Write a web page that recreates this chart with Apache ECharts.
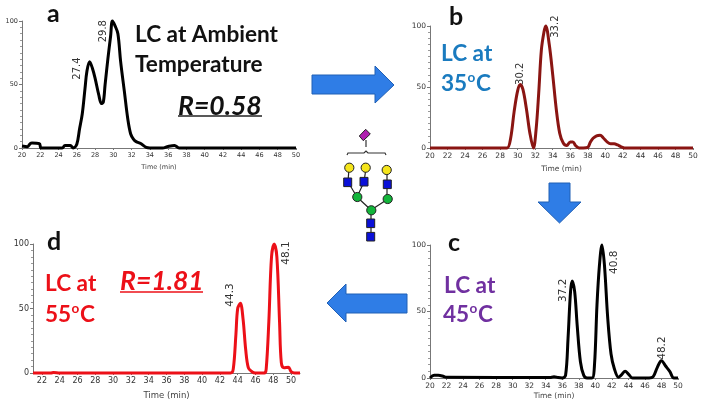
<!DOCTYPE html>
<html><head><meta charset="utf-8">
<style>html,body{margin:0;padding:0;background:#fff}#c{width:704px;height:408px}</style>
<script src="https://cdn.jsdelivr.net/npm/echarts@6/dist/echarts.min.js"></script>
</head><body><div id="c"></div>
<script>
const timeA=[20,20.6,20.9,21.1,21.9,22.1,24.4,24.7,25.3,25.6,26,26.3,26.6,26.9,27.1,27.4,27.7,28,28.4,28.7,28.9,29.1,29.4,29.7,29.9,30.2,30.5,30.8,31.2,31.6,31.9,32.2,32.5,33,33.6,34,35.4,35.9,36.7,37.2,50];
const valueA=[1.5,1,3.5,4,3.5,0,0,2,2,0,3,15,27,47,60,68,63,55,42,35,36,50,70,88,100,96,90,68,45,22,11,7,5,3.5,0.5,0,0,1,2,0,0];
const timeB=[20,28,28.8,29.2,29.6,30,30.3,30.6,31,31.4,31.8,32.1,32.4,32.7,33,33.2,33.6,34,34.4,34.8,35.2,35.6,36,36.3,36.6,37,37.5,38,38.3,38.6,39,39.4,39.8,40.2,40.6,41,41.4,41.8,42.2,42.6,50];
const valueB=[0,0,0,8,30,47,52,48,32,12,0,15,45,80,95,100,85,60,32,12,4,2,5,5,2,0,0,0.5,5,8,10,10.5,8,5,3.5,3.5,2.5,1,0,0,0];
const timeC=[20,20.5,21,21.5,22,34.5,35,35.5,36,36.4,36.7,37,37.2,37.5,37.8,38.2,38.6,39,39.6,39.9,40.2,40.5,40.8,41.1,41.5,41.9,42.3,42.8,43.1,43.6,44,44.5,46.5,47,47.5,48,48.5,49,49.5,50];
const valueC=[0,2,2,1.5,0.5,0.3,1,0.3,0,2,30,65,73,65,40,12,2,0,0,10,55,85,100,85,45,18,7,0.5,2,5,3,0,0,1,8,13,9,5,0,0];
const timeD=[21,23,23.3,24,43.2,43.5,43.8,44,44.3,44.6,44.9,45.2,45.6,46,47,47.2,47.5,47.8,48.1,48.4,48.7,48.9,49.2,49.7,50,50.4,51];
const valueD=[0,0,0.4,0,0,3,30,50,54,42,18,4,1,0,0,3,40,90,100,90,40,8,4,4.5,1,0,0];
const peaksA=[["27.4",26.1,62.6],["29.8",28.9,92]];
const peaksB=[["30.2",30.3,60.8],["33.2",34.3,99.5]];
const peaksC=[["37.2",36.1,66],["40.8",42.3,87],["48.2",48.1,22.5]];
const peaksD=[["44.3",43.2,60.5],["48.1",49.5,93]];
const xTicks=[22,24,26,28,30,32,34,36,38,40,42,44,46,48,50];
const axisTitle="Time (min)";

const pair=(x,y)=>x.map((t,i)=>[t,y[i]]);
const panels=[
 {t:timeA,v:valueA,p:peaksA,c:'#000',w:3,min:20,max:50,l:22,r:296,top:21,bot:148,fs:6.5,nf:6.5,ng:16,pf:10},
 {t:timeB,v:valueB,p:peaksB,c:'#8a1512',w:3,min:20,max:50,l:430,r:693,top:26,bot:148,fs:7.5,nf:7.5,ng:17,pf:10},
 {t:timeC,v:valueC,p:peaksC,c:'#000',w:3,min:20,max:50,l:430,r:678,top:245,bot:378,fs:7.5,nf:7.5,ng:14,pf:10.5},
 {t:timeD,v:valueD,p:peaksD,c:'#ec1018',w:3,min:21,max:51,l:33,r:300,top:244,bot:373,fs:8,nf:8.5,ng:18,pf:10.5}
];
const axisCol='#777',labCol='#333',F='"DejaVu Sans",sans-serif',T='Lato,"Open Sans",sans-serif';
const grid=[],xAxis=[],yAxis=[],series=[];
panels.forEach((q,i)=>{
 grid.push({left:q.l,width:q.r-q.l,top:q.top,height:q.bot-q.top});
 const ticks=q.min===20?[20,...xTicks]:xTicks;
 xAxis.push({gridIndex:i,type:'value',min:q.min,max:q.max,splitLine:{show:false},
  name:axisTitle,nameLocation:'middle',nameGap:q.ng,nameTextStyle:{fontSize:q.nf,color:'#444',fontFamily:F},
  axisLine:{show:true,lineStyle:{color:axisCol,width:1}},
  axisTick:{show:true,length:2,customValues:ticks,lineStyle:{color:axisCol}},
  axisLabel:{customValues:ticks,fontSize:q.fs,color:labCol,margin:4,fontFamily:F,hideOverlap:false}});
 yAxis.push({gridIndex:i,type:'value',min:0,max:100,interval:50,splitLine:{show:false},
  axisLine:{show:true,lineStyle:{color:axisCol,width:1}},
  axisTick:{show:true,length:3,lineStyle:{color:axisCol}},
  minorTick:{show:true,splitNumber:10,length:2,lineStyle:{color:'#999'}},
  axisLabel:{fontSize:q.fs,color:labCol,margin:4,fontFamily:F}});
 series.push({type:'line',xAxisIndex:i,yAxisIndex:i,data:pair(q.t,q.v),showSymbol:false,silent:true,
  smooth:0.35,lineStyle:{color:q.c,width:q.w,join:'round'},clip:false,
  markPoint:{symbol:'circle',symbolSize:0,silent:true,animation:false,
   data:q.p.map(a=>({coord:[a[1],a[2]],label:{show:true,formatter:a[0],position:'inside',rotate:90,
    fontSize:q.pf,color:'#333',fontFamily:F}}))}});
});
const text=(x,y,s,fill,size,extra)=>({type:'text',x,y,silent:true,style:Object.assign({text:s,fill,font:`bold ${size}px ${T}`,verticalAlign:'middle'},extra||{})});
const sup=(x,y,s1,s2,fill,size)=>[text(x,y,s1,fill,size),text(x+size*1.17,y-6,'o',fill,size*0.6),text(x+size*1.55,y,s2,fill,size)];
const line=(x1,y1,x2,y2,c,w)=>({type:'line',silent:true,shape:{x1,y1,x2,y2},style:{stroke:c,lineWidth:w}});
const arrow=pts=>({type:'polygon',silent:true,shape:{points:pts},style:{fill:'#2f7de6',stroke:'#2160b5',lineWidth:1}});
const circ=(cx,cy,f)=>({type:'circle',silent:true,z:5,shape:{cx,cy,r:4.6},style:{fill:f,stroke:'#222',lineWidth:1}});
const sq=(cx,cy)=>({type:'rect',silent:true,z:5,shape:{x:cx-4,y:cy-4.3,width:8,height:8.6},style:{fill:'#0a10d8',stroke:'#222',lineWidth:1}});
const blue='#1a7bbf',pur='#7030a0',red='#ec1018';
const graphic=[
 text(47,14,'a','#111',25),text(135,35,'LC at Ambient','#111',22.6),text(135,65,'Temperature','#111',22.6),
 text(178,106,'R=0.58','#111',26.5,{font:`italic bold 26.5px ${T}`}),line(178,116,262,116,'#222',1.5),
 text(449,17,'b','#111',25),text(441,54,'LC at',blue,22.6),...sup(441,84,'35','C',blue,22.6),
 text(448,243,'c','#111',25),text(444,286,'LC at',pur,22.6),...sup(443,315,'45','C',pur,22.6),
 text(47,242,'d','#111',25),text(45,284,'LC at',red,22.6),...sup(45,315,'55','C',red,22.6),
 text(120,281,'R=1.81',red,26.5,{font:`italic bold 26.5px ${T}`}),line(120,292,203,292,red,1.5),
 arrow([[312,75],[375,75],[375,66],[394,85],[375,103],[375,94],[312,94]]),
 arrow([[549,183],[570,183],[570,202],[581,202],[559.5,223],[538,202],[549,202]]),
 arrow([[407,294],[346,294],[346,284],[327,303],[346,322],[346,313],[407,313]]),
 line(366,140,366,147,'#333',1.2),
 {type:'polyline',silent:true,shape:{points:[[347,155],[348,153],[364,153],[366,151],[368,153],[385,153],[386,155]]},style:{stroke:'#333',lineWidth:1.2,fill:'none'}},
 {type:'polygon',silent:true,z:5,shape:{points:[[365.7,129.3],[370.3,134],[363.3,140.7],[359.3,136]]},style:{fill:'#b01fb0',stroke:'#222',lineWidth:1}},
 line(349,168,348,182,'#222',1.2),line(366,168,364,182,'#222',1.2),line(387,170,387,199,'#222',1.2),
 line(348,182,357,197,'#222',1.2),line(364,182,357,197,'#222',1.2),line(357,197,371,210,'#222',1.2),
 line(388,199,371,210,'#222',1.2),line(371,210,371,237,'#222',1.2),
 circ(349.3,167.7,'#f5e51b'),circ(365.7,167.7,'#f5e51b'),circ(386.7,170,'#f5e51b'),
 sq(347.7,182.3),sq(364,181.7),sq(387.3,184.3),
 circ(357.3,197,'#12b53a'),circ(387.7,199,'#12b53a'),circ(371.3,210.3,'#12b53a'),
 sq(370.7,223.3),sq(370.7,236.7)
];
const chart=echarts.init(document.getElementById('c'),null,{renderer:'canvas'});
chart.setOption({animation:false,backgroundColor:'#fff',grid,xAxis,yAxis,series,graphic:{elements:graphic}});
</script></body></html>
